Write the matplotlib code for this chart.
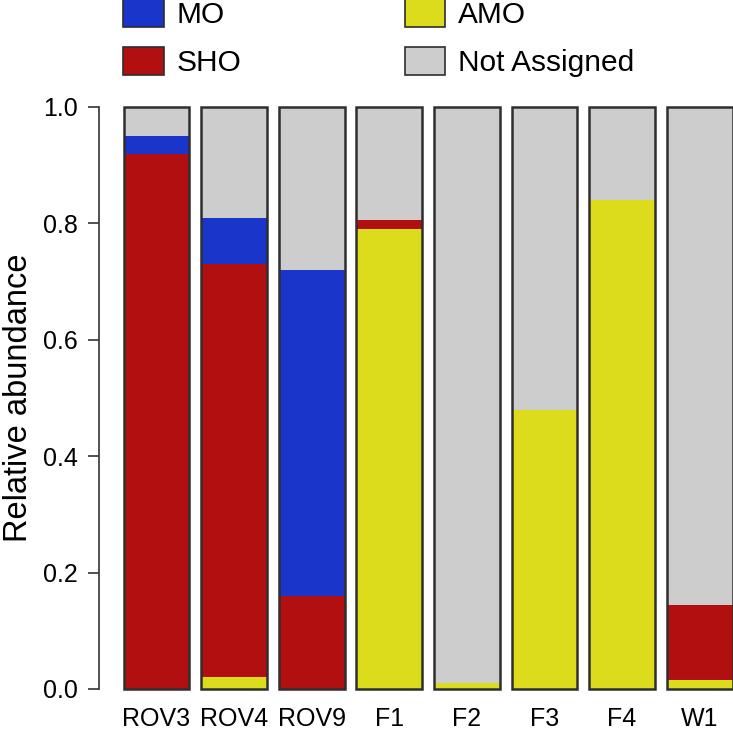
"""Stacked relative-abundance bars per sample."""

import matplotlib

matplotlib.use("Agg")
import matplotlib.pyplot as plt
import numpy as np
from matplotlib.patches import Patch

plt.rcParams["font.family"] = ["Liberation Sans", "DejaVu Sans"]

samples = ["ROV3", "ROV4", "ROV9", "F1", "F2", "F3", "F4", "W1"]
amo = [0.0, 0.02, 0.0, 0.79, 0.01, 0.48, 0.84, 0.015]
sho = [0.92, 0.71, 0.16, 0.015, 0.0, 0.0, 0.0, 0.13]
mo = [0.03, 0.08, 0.56, 0.0, 0.0, 0.0, 0.0, 0.0]
not_assigned = [1 - a - s - m for a, s, m in zip(amo, sho, mo)]

series = [
    ("AMO", amo, "#dcdc1c"),
    ("SHO", sho, "#b20f10"),
    ("MO", mo, "#1a35c9"),
    ("Not Assigned", not_assigned, "#cdcdcd"),
]
EDGE = "#2e2e2e"

W, H = 733, 733
fig = plt.figure(figsize=(W / 100, H / 100), dpi=100)
# axes in pixel terms: left spine at x=99, y=0 at 689, y=1 at 107
left_px, right_px, bottom_px, top_px = 99, 733, 689, 107
ax = fig.add_axes(
    [left_px / W, 1 - bottom_px / H, (right_px - left_px) / W, (bottom_px - top_px) / H]
)

x = np.arange(len(samples))
bottom = np.zeros(len(samples))
handles = {}
for name, values, color in series:
    values = np.array(values)
    ax.bar(
        x, values, width=0.85, bottom=bottom, color=color,
        edgecolor="none", linewidth=0, clip_on=False,
    )
    bottom += values
    handles[name] = Patch(facecolor=color, edgecolor=EDGE, linewidth=1.2)

# outline around each full bar
ax.bar(x, bottom, width=0.85, facecolor="none", edgecolor=EDGE,
       linewidth=1.8, clip_on=False)

spacing = 77.6
ax.set_xlim((left_px - 156.5) / spacing, (right_px - 156.5) / spacing)
ax.set_ylim(0, 1)

for side in ("top", "right", "bottom"):
    ax.spines[side].set_visible(False)
ax.spines["left"].set_bounds(0, 1)
ax.spines["left"].set_color("#333333")
ax.spines["left"].set_linewidth(1.2)

ax.set_yticks(np.linspace(0, 1, 6))
ax.set_yticklabels([f"{v:.1f}" for v in np.linspace(0, 1, 6)])
ax.tick_params(axis="y", length=8, width=1.2, color="#333333",
               labelsize=18, pad=7)
ax.set_xticks(x)
ax.set_xticklabels(samples)
ax.tick_params(axis="x", length=0, labelsize=18, pad=13)
ax.set_ylabel("Relative abundance", fontsize=23.5, labelpad=7)

fig.legend(
    [handles["MO"], handles["SHO"], handles["AMO"], handles["Not Assigned"]],
    ["MO", "SHO", "AMO", "Not Assigned"],
    ncol=2,
    loc="upper left",
    bbox_to_anchor=(123 / W, 1.0 + 1 / H),
    frameon=False,
    fontsize=21.5,
    handlelength=1.37,
    handleheight=1.05,
    handletextpad=0.42,
    labelspacing=0.6,
    columnspacing=5.47,
    borderpad=0,
    borderaxespad=0,
)

fig.savefig("out.png", dpi=100, facecolor="white")
